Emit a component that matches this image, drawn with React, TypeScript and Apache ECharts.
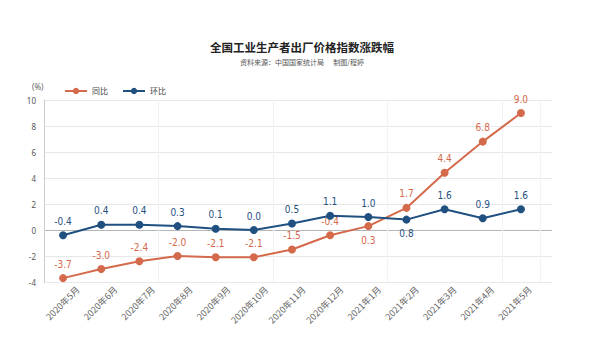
import React, { useEffect, useRef } from "react";
import * as echarts from "echarts";

const categories = ["2020年5月","2020年6月","2020年7月","2020年8月","2020年9月","2020年10月","2020年11月","2020年12月","2021年1月","2021年2月","2021年3月","2021年4月","2021年5月"];
const yoy = [-3.7, -3.0, -2.4, -2.0, -2.1, -2.1, -1.5, -0.4, 0.3, 1.7, 4.4, 6.8, 9.0];
const mom = [-0.4, 0.4, 0.4, 0.3, 0.1, 0.0, 0.5, 1.1, 1.0, 0.8, 1.6, 0.9, 1.6];
const yoyBelow = [8];
const momBelow = [9];

const ORANGE = "#d4694b";
const BLUE = "#1f5080";

export default function App() {
  const ref = useRef<HTMLDivElement>(null);
  useEffect(() => {
    document.body.style.margin = "0";
    const chart = echarts.init(ref.current!, null, { renderer: "svg" });
    const fmt = (p: any) => Number(p.value).toFixed(1);
    const valLabel = (color: string) => ({
      show: true, color, fontSize: 10, fontWeight: "normal", fontFamily: "DejaVu Sans Condensed", formatter: fmt, distance: 5,
    });
    chart.setOption({
      animation: false,
      backgroundColor: "#fff",
      title: {
        text: "全国工业生产者出厂价格指数涨跌幅",
        subtext: "资料来源：中国国家统计局      制图/程婷",
        left: 297,
        textAlign: "center",
        top: 36,
        itemGap: 6,
        textStyle: { fontSize: 11.5, fontWeight: "bold", color: "#222", fontFamily: "Noto Sans CJK SC" },
        subtextStyle: { fontSize: 7, color: "#555", fontFamily: "Noto Sans CJK SC" },
      },
      graphic: [
        { type: "text", left: 32, top: 82, style: { text: "(%)", fontSize: 8, fill: "#666", fontFamily: "Noto Sans" } },
      ],
      legend: {
        left: 59,
        top: 82,
        itemWidth: 22,
        itemHeight: 8,
        itemGap: 14,
        textStyle: { fontSize: 8, color: "#444", fontFamily: "Noto Sans CJK SC" },
        data: ["同比", "环比"],
      },
      grid: [
        { left: 44, top: 100, right: 64, bottom: 69, containLabel: false },
        { left: 59, top: 100, right: 55, bottom: 69, containLabel: false },
        { left: 44, top: 100, right: 52, bottom: 69, containLabel: false },
      ],
      xAxis: [
        {
          type: "category",
          gridIndex: 0,
          data: categories,
          boundaryGap: true,
          axisLine: { show: false },
          axisTick: { show: false, alignWithLabel: true },
          splitLine: { show: true, lineStyle: { color: "#f3f3f3", width: 1 } },
          axisLabel: { show: false },
        },
        {
          type: "category",
          gridIndex: 1,
          data: categories,
          boundaryGap: true,
          axisLine: { show: false },
          axisTick: { show: false },
          splitLine: { show: false },
          axisLabel: { rotate: 45, fontSize: 9, color: "#666", margin: 6, interval: 0, fontFamily: "Noto Sans CJK SC" },
        },
        {
          type: "value",
          gridIndex: 2,
          show: false,
        },
      ],
      yAxis: [
        {
          type: "value",
          gridIndex: 0,
          min: -4,
          max: 10,
          interval: 2,
          axisLine: { show: true, lineStyle: { color: "#ccc" } },
          axisTick: { show: false },
          axisLabel: { fontSize: 8, color: "#555", margin: 8, fontFamily: "Noto Sans" },
          splitLine: { show: false },
        },
        {
          type: "value",
          gridIndex: 1,
          show: false,
          min: -4,
          max: 10,
        },
        {
          type: "value",
          gridIndex: 2,
          min: -4,
          max: 10,
          interval: 2,
          axisLine: { show: false },
          axisTick: { show: false },
          axisLabel: { show: false },
          splitLine: { lineStyle: { color: ["#e8e8e8", "#e8e8e8", "#b5b5b5", "#e8e8e8", "#e8e8e8", "#e8e8e8", "#e8e8e8", "#e8e8e8"] } },
        },
      ],
      series: [
        {
          name: "同比",
          type: "line",
          xAxisIndex: 0,
          yAxisIndex: 0,
          data: yoy.map((v, i) => ({ value: v, label: { position: yoyBelow.includes(i) ? "bottom" : "top" } })),
          color: ORANGE,
          symbol: "circle",
          symbolSize: 8,
          lineStyle: { width: 2, color: ORANGE },
          label: valLabel(ORANGE),
          z: 3,
        },
        {
          name: "环比",
          type: "line",
          xAxisIndex: 0,
          yAxisIndex: 0,
          data: mom.map((v, i) => ({ value: v, label: { position: momBelow.includes(i) ? "bottom" : "top" } })),
          color: BLUE,
          symbol: "circle",
          symbolSize: 8,
          lineStyle: { width: 2, color: BLUE },
          label: valLabel(BLUE),
          z: 4,
        },
      ],
    });
    return () => chart.dispose();
  }, []);
  return <div ref={ref} style={{ width: 604, height: 351 }} />;
}
